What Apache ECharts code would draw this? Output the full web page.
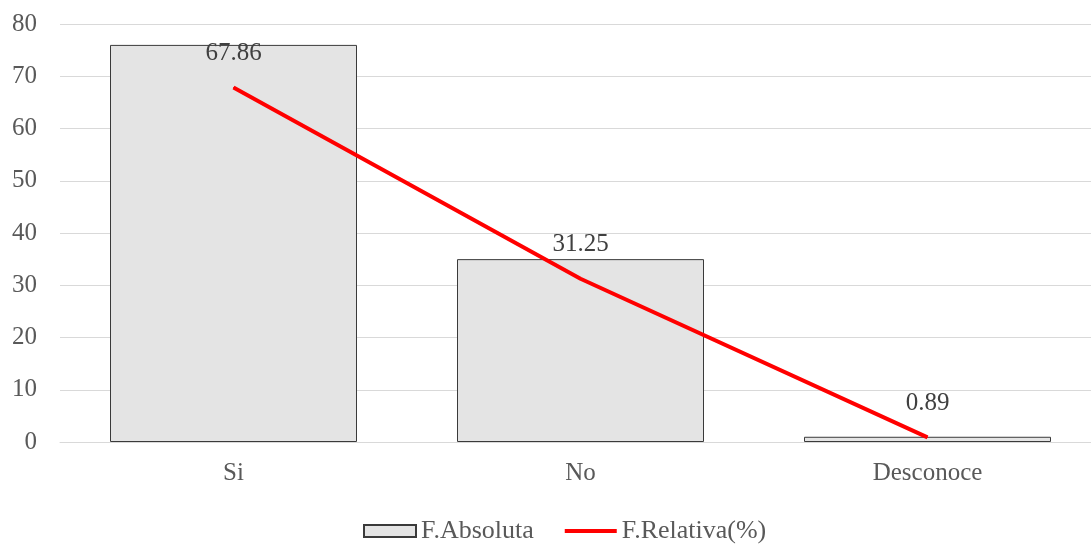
<!DOCTYPE html>
<html>
<head>
<meta charset="utf-8">
<script src="https://cdn.jsdelivr.net/npm/echarts@6/dist/echarts.min.js"></script>
<style>
  html, body { margin: 0; padding: 0; background: #ffffff; }
  #chart { width: 1091px; height: 544px; }
</style>
</head>
<body>
<div id="chart"></div>
<script>
// Categories and series values
const categories = ['Si', 'No', 'Desconoce'];
const absoluta = [76, 35, 1];
const relativa = [67.86, 31.25, 0.89];
const yTicks = { min: 0, max: 80, interval: 10 };

const font = '"Liberation Serif", "Times New Roman", serif';
const textColor = '#595959';
const fontSize = 25;

const chart = echarts.init(document.getElementById('chart'));
chart.setOption({
  animation: false,
  backgroundColor: '#ffffff',
  grid: { left: 60, top: 24, width: 1041, height: 418, containLabel: false, outerBoundsMode: 'none' },
  legend: {
    top: 513,
    left: 358,
    itemWidth: 52,
    itemHeight: 12,
    itemGap: 31,
    textStyle: { fontFamily: font, fontSize: 26, color: textColor },
    data: [
      { name: 'F.Absoluta', icon: 'rect' },
      { name: 'F.Relativa(%)', icon: 'path://M0,0 H52 V4 H0 Z' }
    ]
  },
  xAxis: {
    type: 'category',
    data: categories,
    axisLine: { show: true, lineStyle: { color: '#d9d9d9', width: 1 } },
    axisTick: { show: false },
    axisLabel: { fontFamily: font, fontSize: fontSize, color: textColor, margin: 19 }
  },
  yAxis: {
    type: 'value',
    min: yTicks.min,
    max: yTicks.max,
    interval: yTicks.interval,
    axisLine: { show: false },
    axisTick: { show: false },
    splitLine: { lineStyle: { color: '#d9d9d9', width: 1 } },
    axisLabel: { fontFamily: font, fontSize: fontSize, color: textColor, margin: 23 }
  },
  series: [
    {
      name: 'F.Absoluta',
      type: 'bar',
      data: absoluta,
      barWidth: 247,
      itemStyle: { color: '#e4e4e4', borderColor: '#3a3a3a', borderWidth: 1 }
    },
    {
      name: 'F.Relativa(%)',
      type: 'line',
      data: relativa,
      symbol: 'circle',
      symbolSize: 1,
      showSymbol: true,
      lineStyle: { color: '#ff0000', width: 4 },
      itemStyle: { color: '#ff0000' },
      label: {
        show: true,
        position: 'top',
        distance: 21,
        fontFamily: font,
        fontSize: fontSize,
        color: '#404040',
        formatter: p => p.value.toFixed(2)
      }
    }
  ]
});
</script>
</body>
</html>
